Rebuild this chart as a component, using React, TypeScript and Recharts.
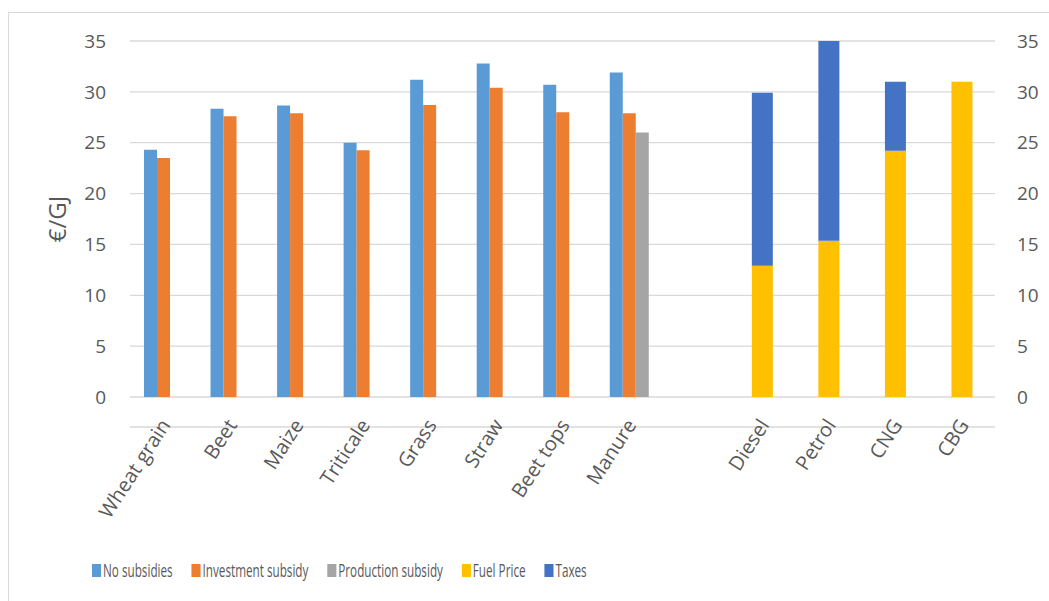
import { Bar, BarChart, CartesianGrid, Legend, XAxis, YAxis } from "recharts";

const categories = [
  "Wheat grain",
  "Beet",
  "Maize",
  "Triticale",
  "Grass",
  "Straw",
  "Beet tops",
  "Manure",
  "",
  "Diesel",
  "Petrol",
  "CNG",
  "CBG",
];

const noSubsidies = [24.3, 28.35, 28.65, 25.0, 31.2, 32.8, 30.7, 31.9, null, null, null, null, null];
const investmentSubsidy = [23.5, 27.6, 27.9, 24.25, 28.7, 30.4, 28.0, 27.9, null, null, null, null, null];
const productionSubsidy = [null, null, null, null, null, null, null, 26.0, null, null, null, null, null];
const fuelPrice = [null, null, null, null, null, null, null, null, null, 12.9, 15.35, 24.2, 31.0];
const taxes = [null, null, null, null, null, null, null, null, null, 17.0, 19.65, 6.8, 0];

const yTicks = [0, 5, 10, 15, 20, 25, 30, 35];

const legendItems = [
  { label: "No subsidies", color: "#5B9BD5" },
  { label: "Investment subsidy", color: "#ED7D31" },
  { label: "Production subsidy", color: "#A5A5A5" },
  { label: "Fuel Price", color: "#FFC000" },
  { label: "Taxes", color: "#4472C4" },
];

const data = categories.map((name, i) => ({
  name,
  noSubsidies: noSubsidies[i],
  investmentSubsidy: investmentSubsidy[i],
  productionSubsidy: productionSubsidy[i],
  fuelPrice: fuelPrice[i],
  taxes: taxes[i],
}));

const FONT = "'Open Sans', sans-serif";
const TEXT = "#595959";
const GRID = "#d9d9d9";

function CategoryTick({ x, y, payload }: any) {
  return (
    <text
      transform={`translate(${x + 8},${y - 2}) rotate(-57)`}
      textAnchor="end"
      fill={TEXT}
      fontSize={20}
      fontFamily={FONT}
    >
      {payload.value}
    </text>
  );
}

function ChartLegend() {
  return (
    <div
      style={{
        display: "flex",
        alignItems: "center",
        height: 26,
        transform: "scaleX(0.65)",
        transformOrigin: "left center",
        whiteSpace: "nowrap",
        fontFamily: FONT,
        fontSize: 18,
        color: TEXT,
      }}
    >
      {legendItems.map((item) => (
        <div
          key={item.label}
          style={{ display: "flex", alignItems: "center", marginRight: 29 }}
        >
          <span
            style={{
              display: "inline-block",
              width: 14,
              height: 13,
              background: item.color,
              marginRight: 3,
            }}
          />
          <span>{item.label}</span>
        </div>
      ))}
    </div>
  );
}

export default function App() {
  return (
    <div style={{ position: "absolute", left: 0, top: 0, width: 1049, height: 601, overflow: "hidden", background: "#fff" }}>
      <div
        style={{
          position: "absolute",
          left: 8,
          top: 12,
          width: 1100,
          height: 700,
          borderLeft: `1.5px solid ${GRID}`,
          borderTop: `1.5px solid ${GRID}`,
        }}
      />
      <BarChart
        width={1049}
        height={601}
        data={data}
        barGap={0}
        margin={{ top: 41, right: 0, left: 0, bottom: 18 }}
        style={{ position: "absolute", left: 0, top: 0 }}
      >
        <CartesianGrid vertical={false} stroke={GRID} strokeWidth={1.3} xAxisId="main" yAxisId="left" />
        <XAxis
          xAxisId="main"
          dataKey="name"
          type="category"
          height={160}
          tickLine={false}
          tickSize={0}
          tickMargin={0}
          axisLine={{ stroke: GRID, strokeWidth: 1.3 }}
          interval={0}
          tick={<CategoryTick />}
        />
        <XAxis xAxisId="fuel" dataKey="name" type="category" hide />
        <YAxis
          yAxisId="left"
          orientation="left"
          width={130}
          domain={[0, 35]}
          ticks={yTicks}
          axisLine={false}
          tickLine={false}
          tickSize={0}
          tickMargin={24}
          tick={{ fill: TEXT, fontSize: 19, fontFamily: FONT }}
          label={{ value: "€/GJ", angle: -90, position: "center", dx: -8, fill: TEXT, fontSize: 24, fontFamily: FONT }}
        />
        <YAxis
          yAxisId="right"
          orientation="right"
          width={54}
          domain={[0, 35]}
          ticks={yTicks}
          axisLine={false}
          tickLine={false}
          tickSize={0}
          tickMargin={22}
          tick={{ fill: TEXT, fontSize: 19, fontFamily: FONT, textAnchor: "start" }}
        />
        <Legend
          verticalAlign="bottom"
          content={<ChartLegend />}
          wrapperStyle={{ left: 92, width: "auto" }}
        />
        <Bar xAxisId="main" yAxisId="left" dataKey="noSubsidies" name="No subsidies" fill="#5B9BD5" barSize={13} isAnimationActive={false} />
        <Bar xAxisId="main" yAxisId="left" dataKey="investmentSubsidy" name="Investment subsidy" fill="#ED7D31" barSize={13} isAnimationActive={false} />
        <Bar xAxisId="main" yAxisId="left" dataKey="productionSubsidy" name="Production subsidy" fill="#A5A5A5" barSize={13} isAnimationActive={false} />
        <Bar xAxisId="fuel" yAxisId="right" dataKey="fuelPrice" name="Fuel Price" stackId="fuel" fill="#FFC000" barSize={21} isAnimationActive={false} />
        <Bar xAxisId="fuel" yAxisId="right" dataKey="taxes" name="Taxes" stackId="fuel" fill="#4472C4" barSize={21} isAnimationActive={false} />
      </BarChart>
    </div>
  );
}
